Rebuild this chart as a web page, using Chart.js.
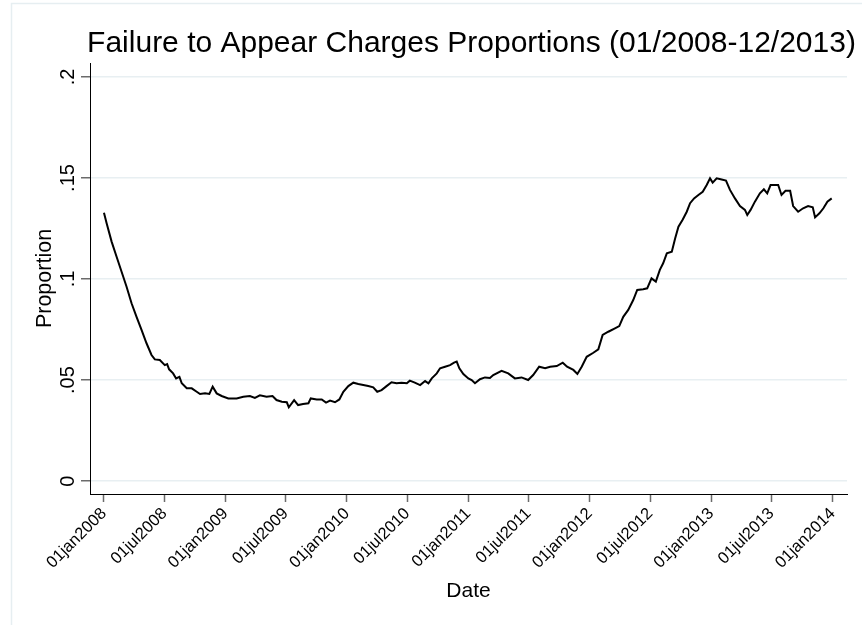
<!DOCTYPE html>
<html>
<head>
<meta charset="utf-8">
<script src="https://cdn.jsdelivr.net/npm/chart.js@4"></script>
<style>
  html, body { margin: 0; padding: 0; background: #ffffff; }
  #wrap { width: 862px; height: 625px; position: relative; }
</style>
</head>
<body>
<div id="wrap"><canvas id="c" width="862" height="625"></canvas></div>
<script>
// ---- Data ----
const chartTitle = "Failure to Appear Charges Proportions (01/2008-12/2013)";
const xTitle = "Date";
const yTitle = "Proportion";

// days since 01jan2008
const days = [
  0, 8, 23, 38, 53, 68, 83, 98, 113, 128, 143, 153, 168, 183, 190, 196, 208, 217, 227, 234,
  249, 264, 279, 289, 304, 317, 327, 339, 354, 374, 399, 419, 439, 454, 469, 489, 507, 519,
  535, 550, 556, 572, 584, 599, 615, 622, 640, 655, 668, 680, 695, 708, 720, 735, 750, 765,
  780, 795, 810, 822, 835, 850, 865, 880, 895, 911, 920, 935, 951, 966, 976, 986, 1001, 1011,
  1026, 1041, 1053, 1061, 1069, 1081, 1096, 1106, 1116, 1131, 1146, 1161, 1171, 1196, 1216,
  1236, 1256, 1276, 1291, 1309, 1327, 1342, 1362, 1380, 1393, 1412, 1424, 1437, 1452, 1472,
  1487, 1500, 1517, 1537, 1550, 1562, 1577, 1592, 1604, 1622, 1634, 1647, 1660, 1672, 1682,
  1693, 1708, 1718, 1728, 1741, 1753, 1763, 1775, 1788, 1801, 1813, 1823, 1831, 1843, 1855,
  1871, 1883, 1898, 1913, 1928, 1935, 1945, 1958, 1973, 1985, 1995, 2005, 2018, 2028, 2038,
  2050, 2064, 2073, 2088, 2103, 2118, 2132, 2139, 2152, 2164, 2176, 2189
];
const proportion = [
  0.1328, 0.1276, 0.1185, 0.1110, 0.1036, 0.0962, 0.0880, 0.0813, 0.0748, 0.0682, 0.0624, 0.0602, 0.0599, 0.0574, 0.0579, 0.0553, 0.0533, 0.0508, 0.0516, 0.0484,
  0.0459, 0.0459, 0.0442, 0.0431, 0.0434, 0.0431, 0.0467, 0.0434, 0.0421, 0.0409, 0.0409, 0.0417, 0.0421, 0.0412, 0.0424, 0.0417, 0.0421, 0.0401,
  0.0393, 0.0390, 0.0365, 0.0401, 0.0376, 0.0381, 0.0385, 0.0409, 0.0404, 0.0404, 0.0388, 0.0398, 0.0390, 0.0404, 0.0442, 0.0470, 0.0487, 0.0480,
  0.0475, 0.0470, 0.0464, 0.0442, 0.0450, 0.0470, 0.0489, 0.0484, 0.0487, 0.0484, 0.0497, 0.0487, 0.0475, 0.0495, 0.0484, 0.0508, 0.0533, 0.0558,
  0.0566, 0.0574, 0.0586, 0.0591, 0.0558, 0.0530, 0.0508, 0.0500, 0.0484, 0.0504, 0.0513, 0.0510, 0.0525, 0.0546, 0.0533,
  0.0508, 0.0513, 0.0500, 0.0525, 0.0566, 0.0558, 0.0566, 0.0569, 0.0586, 0.0566, 0.0550, 0.0530, 0.0566, 0.0615, 0.0635,
  0.0652, 0.0723, 0.0739, 0.0756, 0.0767, 0.0813, 0.0847, 0.0896, 0.0946, 0.0949, 0.0954, 0.1003, 0.0987, 0.1045, 0.1078,
  0.1127, 0.1135, 0.1201, 0.1259, 0.1295, 0.1333, 0.1375, 0.1399, 0.1416, 0.1432, 0.1465, 0.1498, 0.1477, 0.1498, 0.1494,
  0.1487, 0.1441, 0.1399, 0.1361, 0.1342, 0.1317, 0.1342, 0.1383, 0.1424, 0.1444, 0.1424, 0.1465, 0.1465, 0.1465, 0.1416,
  0.1437, 0.1437, 0.1361, 0.1333, 0.1350, 0.1361, 0.1355, 0.1305, 0.1325, 0.1350, 0.1383, 0.1399
];

// x tick positions (days since 01jan2008) and labels
const xTickDays = [0, 182, 366, 547, 731, 912, 1096, 1277, 1461, 1643, 1827, 2008, 2192];
const xTickLabels = ["01jan2008", "01jul2008", "01jan2009", "01jul2009", "01jan2010", "01jul2010",
  "01jan2011", "01jul2011", "01jan2012", "01jul2012", "01jan2013", "01jul2013", "01jan2014"];
const yTickValues = [0, 0.05, 0.1, 0.15, 0.2];
const yTickLabels = ["0", ".05", ".1", ".15", ".2"];

// ---- Chart ----
const FONT = "'Liberation Sans', Arial, Helvetica, sans-serif";
const points = days.map((d, i) => ({ x: d, y: proportion[i] }));

const framePlugin = {
  id: 'stataFrame',
  beforeDraw(chart) {
    const ctx = chart.ctx;
    ctx.save();
    ctx.fillStyle = '#ffffff';
    ctx.fillRect(0, 0, chart.width, chart.height);
    ctx.strokeStyle = '#e6eef1';
    ctx.lineWidth = 1.5;
    ctx.strokeRect(11.5, 3.5, chart.width + 20, chart.height + 20);
    ctx.restore();
  },
  afterDraw(chart) {
    const ctx = chart.ctx;
    const ys = chart.scales.y;
    const area = chart.chartArea;
    ctx.save();
    // rotated y tick labels
    ctx.fillStyle = '#000000';
    ctx.font = "20px " + FONT;
    ctx.textAlign = 'center';
    ctx.textBaseline = 'alphabetic';
    yTickValues.forEach((v, i) => {
      const py = ys.getPixelForValue(v);
      ctx.save();
      ctx.translate(73.5, py);
      ctx.rotate(-Math.PI / 2);
      ctx.fillText(yTickLabels[i], 0, 0);
      ctx.restore();
    });
    // title
    ctx.font = "30px " + FONT;
    ctx.textAlign = 'center';
    ctx.fillText(chartTitle, 471.5, 52);
    ctx.restore();
  }
};

new Chart(document.getElementById('c'), {
  type: 'line',
  data: {
    datasets: [{
      data: points,
      borderColor: '#000000',
      borderWidth: 2,
      pointRadius: 0,
      tension: 0,
      fill: false
    }]
  },
  options: {
    responsive: false,
    animation: false,
    devicePixelRatio: 1,
    layout: { padding: { top: 63, right: 15, bottom: 0, left: 0 } },
    plugins: {
      legend: { display: false },
      tooltip: { enabled: false }
    },
    scales: {
      x: {
        type: 'linear',
        min: -42,
        max: 2235,
        afterBuildTicks(scale) { scale.ticks = xTickDays.map(v => ({ value: v })); },
        afterFit(scale) { scale.height = 131; },
        ticks: {
          autoSkip: false,
          minRotation: 45,
          maxRotation: 45,
          padding: 2,
          color: '#000000',
          font: { family: FONT, size: 16.5 },
          callback(value) {
            const i = xTickDays.indexOf(value);
            return i >= 0 ? xTickLabels[i] : '';
          }
        },
        grid: {
          drawOnChartArea: false,
          drawTicks: true,
          tickLength: 8,
          tickColor: '#6b6b6b',
          tickWidth: 1.5
        },
        border: { display: true, color: '#000000', width: 1 },
        title: {
          display: true,
          text: xTitle,
          color: '#000000',
          font: { family: FONT, size: 21 },
          padding: { top: 0, bottom: 21 }
        }
      },
      y: {
        type: 'linear',
        min: -0.0064,
        max: 0.2069,
        afterBuildTicks(scale) { scale.ticks = yTickValues.map(v => ({ value: v })); },
        afterFit(scale) { scale.width = 90; },
        ticks: { display: false },
        grid: {
          color: '#e8eff2',
          lineWidth: 1.5,
          drawTicks: true,
          tickLength: 9,
          tickColor: '#6b6b6b',
          tickWidth: 1.5
        },
        border: { display: true, color: '#000000', width: 1 },
        title: {
          display: true,
          text: yTitle,
          color: '#000000',
          font: { family: FONT, size: 21.5 },
          padding: { top: 32.5, bottom: 0 }
        }
      }
    }
  },
  plugins: [framePlugin]
});
</script>
</body>
</html>
